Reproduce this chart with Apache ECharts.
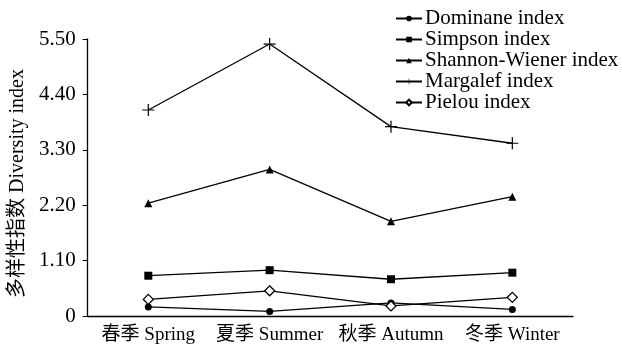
<!DOCTYPE html>
<html><head><meta charset="utf-8">
<script src="https://cdn.jsdelivr.net/npm/echarts@6/dist/echarts.min.js"></script>
<style>html,body{margin:0;padding:0;background:#fff}#c{width:622px;height:350px}</style>
</head><body><div id="c"></div>
<script>
const categories = ['春季 Spring', '夏季 Summer', '秋季 Autumn', '冬季 Winter'];
const dominane = [0.18, 0.09, 0.26, 0.13];
const simpson = [0.80, 0.91, 0.73, 0.86];
const shannon = [2.24, 2.91, 1.88, 2.37];
const margalef = [4.09, 5.40, 3.76, 3.43];
const pielou = [0.33, 0.50, 0.20, 0.37];
const yTicks = ['0', '1.10', '2.20', '3.30', '4.40', '5.50'];

const font = '"Liberation Serif", "Times New Roman", "Noto Sans CJK SC", serif';
const plus = 'path://M0,4.5h10v1h-10z M4.5,0h1v10h-1z';
function mk(name, data, symbol, size, fill) {
  return {
    name, type: 'line', data, symbol, symbolSize: size,
    lineStyle: { color: '#000', width: 1.3 },
    itemStyle: { color: fill, borderColor: '#000', borderWidth: fill === '#fff' ? 1.3 : 0 },
    emphasis: { disabled: true }, animation: false
  };
}
const chart = echarts.init(document.getElementById('c'));
chart.setOption({
  animation: false,
  grid: { left: 87, right: 49, top: 39, bottom: 34 },
  legend: {
    orient: 'vertical', left: 390, top: 3, itemGap: 0, itemWidth: 26, itemHeight: 7,
    textStyle: { fontFamily: font, fontSize: 21, color: '#000', padding: [0, 0, 0, -2] },
    data: ['Dominane index', 'Simpson index', 'Shannon-Wiener index', 'Margalef index', 'Pielou index']
  },
  xAxis: {
    type: 'category', data: categories, boundaryGap: true,
    axisLine: { lineStyle: { color: '#000', width: 1.3 } },
    axisTick: { inside: true, length: 5, lineStyle: { color: '#000' } },
    axisLabel: { fontFamily: font, fontSize: 19, color: '#000', margin: 10, interval: 0 }
  },
  yAxis: {
    type: 'value', min: 0, max: 5.5, interval: 1.1,
    name: '多样性指数 Diversity index', nameLocation: 'middle', nameGap: 54, nameRotate: 90,
    nameTextStyle: { fontFamily: font, fontSize: 20, color: '#000', padding: [0, 12, 0, 0] },
    splitLine: { show: false },
    axisLine: { show: true, lineStyle: { color: '#000', width: 1.3 } },
    axisTick: { show: true, inside: false, length: 5, lineStyle: { color: '#000' } },
    axisLabel: { fontFamily: font, fontSize: 21, color: '#000', margin: 12,
      formatter: (v) => yTicks[Math.round(v / 1.1)] }
  },
  series: [
    mk('Dominane index', dominane, 'circle', 7, '#000'),
    mk('Simpson index', simpson, 'rect', 8, '#000'),
    mk('Shannon-Wiener index', shannon, 'triangle', 8, '#000'),
    mk('Margalef index', margalef, plus, 12, '#000'),
    mk('Pielou index', pielou, 'diamond', 10, '#fff')
  ]
});
</script></body></html>
